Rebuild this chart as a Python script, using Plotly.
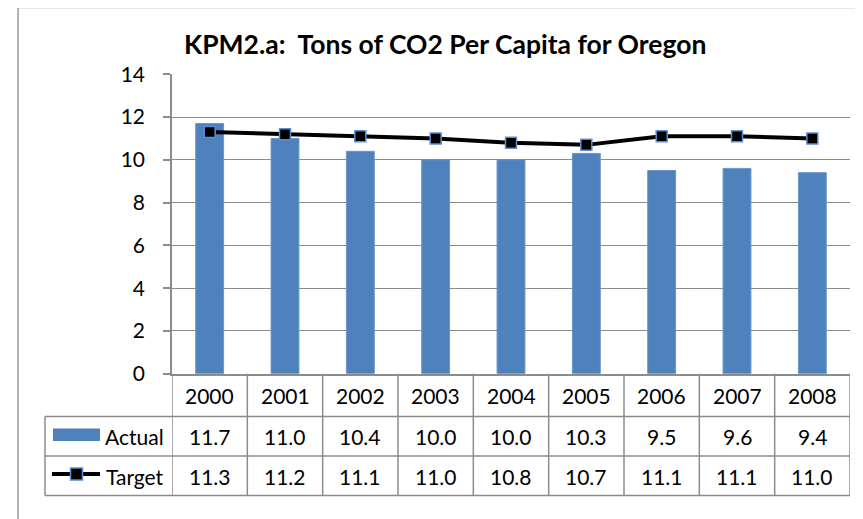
import plotly.graph_objects as go

# ---- data ----
years = ["2000", "2001", "2002", "2003", "2004", "2005", "2006", "2007", "2008"]
actual = [11.7, 11.0, 10.4, 10.0, 10.0, 10.3, 9.5, 9.6, 9.4]
target = [11.3, 11.2, 11.1, 11.0, 10.8, 10.7, 11.1, 11.1, 11.0]
y_ticks = [0, 2, 4, 6, 8, 10, 12, 14]
title_text = "KPM2.a:  Tons of CO2 Per Capita for Oregon"

W, H = 863, 519
OFF = 8  # page body margin
FONT = "Lato, Open Sans, sans-serif"
BLUE = "#4F81BD"
GRID = "#8C8C8C"

def px(x):
    return (x - OFF) / W

def py(y):
    return 1 - (y - OFF) / H

plot_left, plot_right = 172, 850
plot_top, plot_bottom = 74.3, 373.7
row_hdr_bot = 416.5
row_act_bot = 456
row_tgt_bot = 495.5
legend_left = 45

fig = go.Figure()
fig.add_trace(go.Bar(
    x=list(range(len(years))), y=actual, name="Actual",
    marker=dict(color=BLUE, line=dict(color="#6A96CC", width=1)),
    width=0.37, showlegend=False,
))
fig.add_trace(go.Scatter(
    x=list(range(len(years))), y=target, name="Target", mode="lines+markers",
    line=dict(color="black", width=4),
    marker=dict(symbol="square", size=11, color="black",
                line=dict(color="#5B8FD6", width=1.5)),
    showlegend=False,
))

shapes = []
annotations = []

# outer chart border
shapes.append(dict(type="rect", xref="paper", yref="paper",
                   x0=px(18), x1=px(880), y0=py(540), y1=py(7.5),
                   line=dict(color="#9A9A9A", width=1.5)))

# table: horizontal lines
for ypx in [row_hdr_bot, row_act_bot, row_tgt_bot]:
    shapes.append(dict(type="line", xref="paper", yref="paper",
                       x0=px(legend_left), x1=px(plot_right), y0=py(ypx), y1=py(ypx),
                       line=dict(color=GRID, width=1.5)))
# table: vertical lines at category boundaries
for i in range(len(years) + 1):
    shapes.append(dict(type="line", xref="x", yref="paper",
                       x0=i - 0.5, x1=i - 0.5, y0=py(plot_bottom), y1=py(row_tgt_bot),
                       line=dict(color=GRID, width=1.5)))
# legend column left border
shapes.append(dict(type="line", xref="paper", yref="paper",
                   x0=px(legend_left), x1=px(legend_left), y0=py(row_hdr_bot), y1=py(row_tgt_bot),
                   line=dict(color=GRID, width=1.5)))

# legend keys
shapes.append(dict(type="rect", xref="paper", yref="paper",
                   x0=px(53), x1=px(100), y0=py(441), y1=py(428.5),
                   fillcolor=BLUE, line=dict(width=0)))
shapes.append(dict(type="line", xref="paper", yref="paper",
                   x0=px(52), x1=px(100), y0=py(474), y1=py(474),
                   line=dict(color="black", width=4)))
shapes.append(dict(type="rect", xref="paper", yref="paper",
                   x0=px(70.5), x1=px(82.5), y0=py(480), y1=py(468),
                   fillcolor="black", line=dict(color="#5B8FD6", width=1.5)))

tfont = dict(family=FONT, size=21, color="black")
annotations.append(dict(xref="paper", yref="paper", x=px(103), y=py(436),
                        text="Actual", showarrow=False, xanchor="left", yanchor="middle", font=tfont))
annotations.append(dict(xref="paper", yref="paper", x=px(104), y=py(476),
                        text="Target", showarrow=False, xanchor="left", yanchor="middle", font=tfont))

for i, yr in enumerate(years):
    annotations.append(dict(xref="x", yref="paper", x=i, y=py(395.5), text=yr,
                            showarrow=False, xanchor="center", yanchor="middle", font=tfont))
    annotations.append(dict(xref="x", yref="paper", x=i, y=py(436.5), text=f"{actual[i]:.1f}",
                            showarrow=False, xanchor="center", yanchor="middle", font=tfont))
    annotations.append(dict(xref="x", yref="paper", x=i, y=py(476), text=f"{target[i]:.1f}",
                            showarrow=False, xanchor="center", yanchor="middle", font=tfont))

# title
annotations.append(dict(xref="paper", yref="paper", x=px(445), y=py(44), text=f"<b>{title_text}</b>",
                        showarrow=False, xanchor="center", yanchor="middle",
                        font=dict(family=FONT, size=26.5, color="black")))

fig.update_layout(
    width=W, height=H,
    margin=dict(l=0, r=0, t=0, b=0, autoexpand=False),
    paper_bgcolor="white", plot_bgcolor="white",
    shapes=shapes, annotations=annotations,
    xaxis=dict(domain=[px(plot_left), px(plot_right)], range=[-0.5, len(years) - 0.5],
               showticklabels=False, showgrid=False, zeroline=False, automargin=False,
               showline=True, linecolor=GRID, linewidth=1.5, ticks=""),
    yaxis=dict(domain=[py(plot_bottom), py(plot_top)], range=[0, 14], automargin=False,
               tickvals=y_ticks, ticktext=[str(v) for v in y_ticks],
               showgrid=True, gridcolor=GRID, gridwidth=1.2, zeroline=False,
               showline=True, linecolor=GRID, linewidth=1.5,
               ticks="outside", ticklen=7, tickcolor=GRID, tickwidth=1.5,
               ticklabelstandoff=14,
               tickfont=dict(family=FONT, size=21, color="black")),
)

fig.write_html("out.html")
